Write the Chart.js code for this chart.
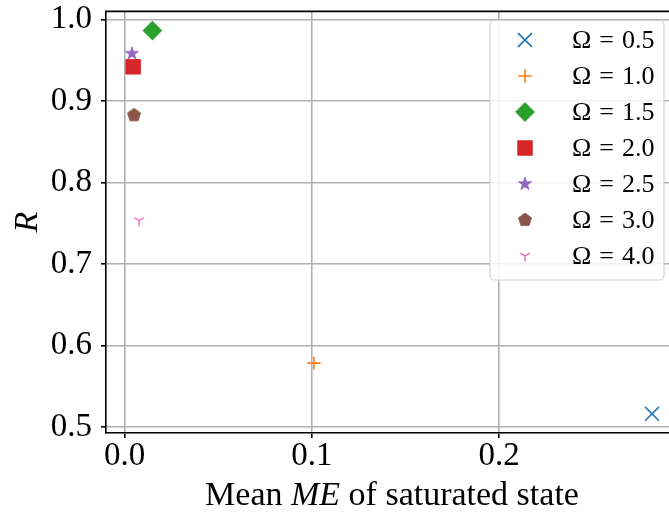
<!DOCTYPE html>
<html>
<head>
<meta charset="utf-8">
<script src="https://cdn.jsdelivr.net/npm/chart.js@4/dist/chart.umd.min.js"></script>
<style>
  html, body { margin: 0; padding: 0; background: #ffffff; overflow: hidden; }
  #wrap { width: 669px; height: 514px; overflow: hidden; }
  canvas { display: block; }
</style>
</head>
<body>
<div id="wrap"><canvas id="c" width="700" height="514"></canvas></div>
<script>
// Order parameter R against the mean ME of the saturated state, one series per Omega
const omegaLabels = ['0.5', '1.0', '1.5', '2.0', '2.5', '3.0', '4.0'];
const meanME      = [0.2817, 0.1011, 0.0148, 0.0045, 0.0039, 0.0050, 0.0077];
const orderR      = [0.5164, 0.5786, 0.9867, 0.9422, 0.9584, 0.8828, 0.7536];
const xTicks = [0.0, 0.1, 0.2];
const yTicks = [0.5, 0.6, 0.7, 0.8, 0.9, 1.0];

const colors = ['#1f77b4', '#ff7f0e', '#2ca02c', '#d62728', '#9467bd', '#8c564b', '#e377c2'];

// axis limits with a 5% margin around the data
function padded(arr) {
  const lo = Math.min(...arr), hi = Math.max(...arr), m = (hi - lo) * 0.05;
  return [lo - m, hi + m];
}
const [xMin, xMax] = padded(meanME);
const [yMin, yMax] = padded(orderR);

// small canvases for marker shapes Chart.js does not ship
function markerCanvas(draw) {
  const c = document.createElement('canvas');
  c.width = 20; c.height = 20;
  const g = c.getContext('2d');
  g.translate(10, 10);
  draw(g);
  return c;
}
function starMarker(color) {
  return markerCanvas(g => {
    const ro = 7.0, ri = ro * 0.381966;
    g.beginPath();
    for (let i = 0; i < 10; i++) {
      const r = i % 2 ? ri : ro;
      const a = -Math.PI / 2 + i * Math.PI / 5;
      const px = r * Math.cos(a), py = r * Math.sin(a);
      i ? g.lineTo(px, py) : g.moveTo(px, py);
    }
    g.closePath();
    g.fillStyle = color; g.fill();
    g.lineWidth = 0.8; g.strokeStyle = color; g.stroke();
  });
}
function pentagonMarker(color) {
  return markerCanvas(g => {
    const r = 6.9;
    g.beginPath();
    for (let i = 0; i < 5; i++) {
      const a = -Math.PI / 2 + i * 2 * Math.PI / 5;
      const px = r * Math.cos(a), py = r * Math.sin(a);
      i ? g.lineTo(px, py) : g.moveTo(px, py);
    }
    g.closePath();
    g.fillStyle = color; g.fill();
    g.lineWidth = 0.8; g.strokeStyle = color; g.stroke();
  });
}
function triDownMarker(color) {
  return markerCanvas(g => {
    const r = 5.6;
    g.beginPath();
    g.moveTo(0, 0); g.lineTo(0, r);
    g.moveTo(0, 0); g.lineTo(-r * 0.866, -r * 0.5);
    g.moveTo(0, 0); g.lineTo(r * 0.866, -r * 0.5);
    g.lineWidth = 1.5; g.strokeStyle = color; g.lineCap = 'butt'; g.stroke();
  });
}

const markers = [
  { style: 'crossRot', radius: 9.8, border: 1.6 },
  { style: 'cross', radius: 6.7, border: 1.6 },
  { style: 'rectRot', radius: 9.4, border: 1 },
  { style: 'rect', radius: 10.2, border: 1 },
  { style: starMarker(colors[4]), radius: 7, border: 0 },
  { style: pentagonMarker(colors[5]), radius: 7, border: 0 },
  { style: triDownMarker(colors[6]), radius: 6, border: 0 }
];

const datasets = omegaLabels.map((lab, i) => ({
  label: 'Ω = ' + lab,
  omega: lab,
  data: [{ x: meanME[i], y: orderR[i] }],
  pointStyle: markers[i].style,
  pointRadius: markers[i].radius,
  pointBorderWidth: markers[i].border,
  backgroundColor: colors[i],
  borderColor: colors[i],
  showLine: false
}));

const SERIF = '"Liberation Serif", "Times New Roman", serif';

// top spine, axis titles and the framed legend
const decorations = {
  id: 'decorations',
  afterDraw(chart) {
    const ctx = chart.ctx;
    const a = chart.chartArea;
    ctx.save();
    // top spine
    ctx.strokeStyle = '#000000';
    ctx.lineWidth = 1.6;
    ctx.beginPath();
    ctx.moveTo(a.left - 0.8, a.top);
    ctx.lineTo(a.right, a.top);
    ctx.stroke();

    // y title
    ctx.fillStyle = '#000000';
    ctx.font = 'italic 34px ' + SERIF;
    ctx.textAlign = 'center';
    ctx.textBaseline = 'alphabetic';
    ctx.save();
    ctx.translate(37, (a.top + a.bottom) / 2);
    ctx.rotate(-Math.PI / 2);
    ctx.fillText('R', 0, 0);
    ctx.restore();

    // x title with italic ME
    const parts = [
      { t: 'Mean ', f: '34px ' + SERIF },
      { t: 'ME', f: 'italic 34px ' + SERIF },
      { t: ' of saturated state', f: '34px ' + SERIF }
    ];
    let total = 0;
    parts.forEach(p => { ctx.font = p.f; p.w = ctx.measureText(p.t).width; total += p.w; });
    let x = (a.left + a.right) / 2 - total / 2;
    ctx.textAlign = 'left';
    parts.forEach(p => { ctx.font = p.f; ctx.fillText(p.t, x, 505); x += p.w; });

    // legend
    const lx = 490, ly = 20.5, lw = 174, lh = 259.5;
    ctx.beginPath();
    ctx.roundRect(lx, ly, lw, lh, 4);
    ctx.fillStyle = 'rgba(255,255,255,0.85)';
    ctx.fill();
    ctx.strokeStyle = '#d3d3d3';
    ctx.lineWidth = 1.2;
    ctx.stroke();
    chart.data.datasets.forEach((ds, i) => {
      const cy = 40 + i * 36;
      const opts = {
        pointStyle: ds.pointStyle,
        radius: ds.pointRadius,
        borderWidth: ds.pointBorderWidth,
        rotation: 0
      };
      ctx.fillStyle = ds.backgroundColor;
      ctx.strokeStyle = ds.borderColor;
      ctx.lineWidth = ds.pointBorderWidth;
      Chart.helpers.drawPoint(ctx, opts, 525, cy);
      ctx.fillStyle = '#000000';
      ctx.font = '26px ' + SERIF;
      ctx.textBaseline = 'middle';
      ctx.textAlign = 'left';
      ctx.fillText('Ω', 572, cy + 1);
      ctx.textAlign = 'center';
      ctx.fillText('=', 606.5, cy + 1);
      ctx.textAlign = 'left';
      ctx.fillText(ds.omega, 622, cy + 1);
    });
    ctx.restore();
  }
};

new Chart(document.getElementById('c'), {
  type: 'scatter',
  data: { datasets },
  plugins: [decorations],
  options: {
    responsive: false,
    animation: false,
    events: [],
    layout: { padding: { top: 6.5, right: 22, left: 0, bottom: 0 } },
    plugins: { legend: { display: false }, tooltip: { enabled: false } },
    scales: {
      x: {
        type: 'linear',
        min: xMin, max: xMax,
        afterBuildTicks: s => { s.ticks = xTicks.map(v => ({ value: v })); },
        afterFit: s => { s.height = 81; s.paddingLeft = 0; s.paddingRight = 0; },
        ticks: {
          color: '#000000',
          font: { family: SERIF, size: 33, lineHeight: 1 },
          padding: 2,
          maxRotation: 0,
          callback: v => Number(v).toFixed(1)
        },
        grid: { color: '#b0b0b0', lineWidth: 1.6, tickColor: '#000000', tickLength: 5, tickWidth: 1.6 },
        border: { color: '#000000', width: 1.6 }
      },
      y: {
        type: 'linear',
        min: yMin, max: yMax,
        afterBuildTicks: s => { s.ticks = yTicks.map(v => ({ value: v })); },
        afterFit: s => { s.width = 106; s.paddingTop = 0; s.paddingBottom = 0; },
        ticks: {
          color: '#000000',
          font: { family: SERIF, size: 33, lineHeight: 0.2 },
          padding: 9,
          callback: v => Number(v).toFixed(1)
        },
        grid: { color: '#b0b0b0', lineWidth: 1.6, tickColor: '#000000', tickLength: 5, tickWidth: 1.6 },
        border: { color: '#000000', width: 1.6 }
      }
    }
  }
});
</script>
</body>
</html>
